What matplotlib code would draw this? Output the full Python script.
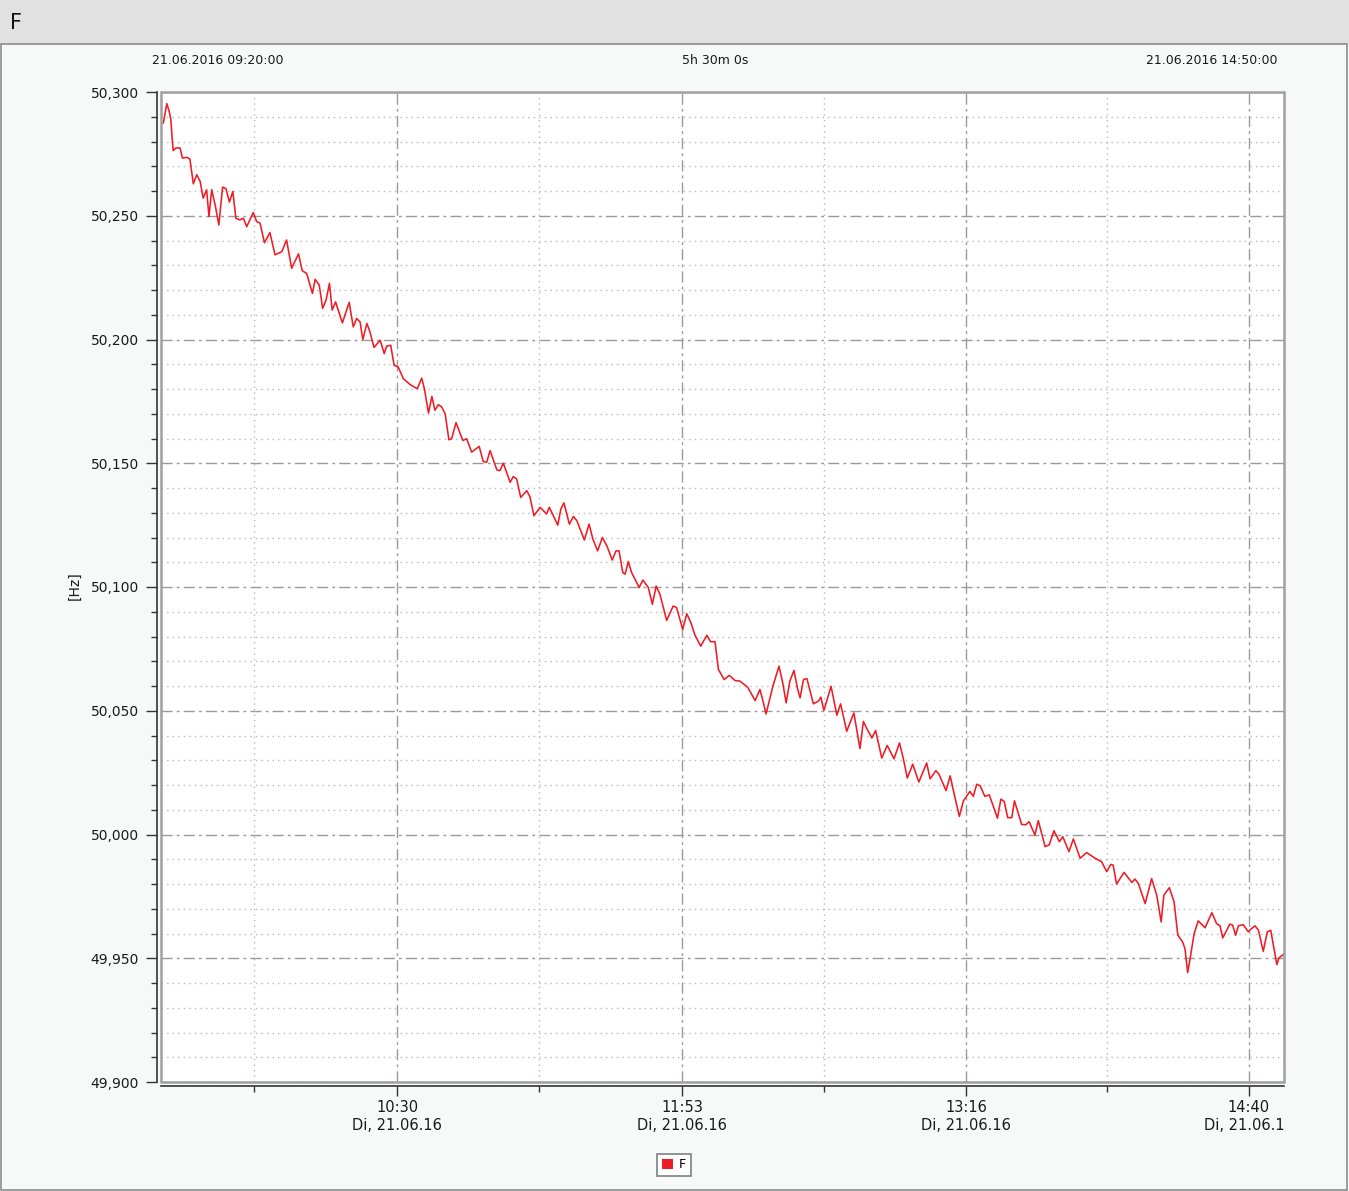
import numpy as np
import matplotlib
matplotlib.use('Agg')
import matplotlib.pyplot as plt
from matplotlib.patches import Rectangle, Patch

# Datos: minutos desde 21.06.2016 09:20:00 y frecuencia en Hz
minutos = [
    0.7, 1.7, 2.4, 2.9, 3.3, 3.6, 4.4, 5.6, 6.3, 7.6,
    8.5, 9.5, 10.5, 11.5, 12.4, 13.4, 14.1, 14.9, 15.9, 17.0,
    18.1, 19.1, 20.1, 21.1, 22.0, 23.2, 24.2, 25.2, 27.1, 28.1,
    29.1, 30.4, 32.0, 33.5, 35.5, 36.9, 38.4, 40.4, 41.5, 42.8,
    44.5, 45.3, 46.5, 47.5, 48.5, 49.5, 50.3, 51.3, 53.3, 55.3,
    56.5, 57.5, 58.5, 59.3, 60.5, 61.4, 62.6, 64.4, 65.6, 66.3,
    67.5, 68.5, 69.7, 71.2, 73.2, 75.3, 76.6, 77.4, 78.6, 79.6,
    80.5, 81.5, 82.5, 83.5, 84.6, 85.4, 86.7, 88.7, 89.8, 91.3,
    93.5, 94.7, 95.7, 96.7, 98.7, 99.6, 100.6, 102.6, 103.5, 104.5,
    105.7, 107.5, 108.4, 109.6, 111.4, 113.3, 114.1, 116.6, 117.5, 118.4,
    120.0, 121.2, 122.2, 124.4, 125.8, 126.9, 128.3, 129.7, 131.0, 132.6,
    133.7, 134.6, 135.7, 136.4, 137.3, 138.3, 140.5, 141.6, 143.2, 144.4,
    145.5, 146.6, 148.6, 150.5, 151.5, 153.3, 154.5, 155.7, 156.9, 158.6,
    160.4, 161.5, 162.8, 163.8, 165.5, 167.0, 168.7, 170.1, 172.4, 174.6,
    176.0, 176.8, 177.8, 179.8, 181.6, 182.7, 183.7, 184.8, 186.0, 187.0,
    187.8, 188.8, 189.8, 191.7, 193.2, 193.9, 194.8, 196.9, 198.6, 199.7,
    201.5, 203.6, 205.4, 206.4, 207.4, 208.9, 210.0, 211.8, 213.4, 215.4,
    217.0, 218.1, 219.3, 220.9, 222.7, 225.0, 226.0, 227.7, 228.6, 230.7,
    231.9, 233.3, 234.6, 235.8, 237.7, 238.7, 239.7, 240.7, 242.1, 243.4,
    245.8, 246.8, 247.8, 248.8, 250.0, 250.8, 252.9, 254.1, 255.1, 256.8,
    257.8, 259.8, 261.0, 262.4, 264.0, 265.0, 266.8, 268.1, 270.1, 272.0,
    274.5, 276.4, 277.9, 279.1, 279.8, 280.8, 283.0, 285.3, 286.2, 287.2,
    289.2, 291.1, 292.6, 293.9, 294.7, 296.3, 297.7, 298.8, 300.2, 300.9,
    301.7, 302.4, 303.6, 304.8, 306.8, 308.8, 310.2, 311.2, 312.0, 314.1,
    314.9, 315.8, 316.6, 318.0, 319.5, 320.3, 321.5, 322.5, 323.9, 325.1,
    326.1, 327.9, 328.5, 329.8,
]
frecuencia = [
    50.2875, 50.2953, 50.2922, 50.2889, 50.2808, 50.2763, 50.2774, 50.2774, 50.2733, 50.2736,
    50.2729, 50.2629, 50.2666, 50.2639, 50.2571, 50.2605, 50.2497, 50.2605, 50.2544, 50.2463,
    50.2616, 50.2609, 50.2555, 50.2598, 50.2490, 50.2483, 50.2490, 50.2456, 50.2513, 50.2477,
    50.2470, 50.2391, 50.2432, 50.2342, 50.2355, 50.2402, 50.2288, 50.2346, 50.2278, 50.2267,
    50.2186, 50.2243, 50.2220, 50.2126, 50.2159, 50.2227, 50.2119, 50.2152, 50.2067, 50.2150,
    50.2051, 50.2085, 50.2071, 50.2000, 50.2065, 50.2031, 50.1968, 50.1997, 50.1943, 50.1973,
    50.1977, 50.1896, 50.1889, 50.1842, 50.1818, 50.1801, 50.1844, 50.1801, 50.1703, 50.1770,
    50.1714, 50.1737, 50.1727, 50.1700, 50.1595, 50.1599, 50.1664, 50.1592, 50.1599, 50.1545,
    50.1568, 50.1507, 50.1504, 50.1551, 50.1473, 50.1470, 50.1500, 50.1423, 50.1446, 50.1437,
    50.1362, 50.1389, 50.1365, 50.1288, 50.1322, 50.1295, 50.1322, 50.1250, 50.1315, 50.1340,
    50.1254, 50.1285, 50.1268, 50.1190, 50.1254, 50.1194, 50.1146, 50.1200, 50.1167, 50.1109,
    50.1146, 50.1146, 50.1058, 50.1052, 50.1103, 50.1058, 50.0998, 50.1028, 50.0998, 50.0930,
    50.1004, 50.0971, 50.0865, 50.0923, 50.0917, 50.0829, 50.0892, 50.0856, 50.0806, 50.0761,
    50.0805, 50.0779, 50.0779, 50.0667, 50.0626, 50.0643, 50.0622, 50.0620, 50.0595, 50.0541,
    50.0586, 50.0545, 50.0487, 50.0599, 50.0680, 50.0613, 50.0532, 50.0620, 50.0663, 50.0592,
    50.0552, 50.0626, 50.0630, 50.0528, 50.0539, 50.0555, 50.0501, 50.0599, 50.0482, 50.0528,
    50.0417, 50.0491, 50.0347, 50.0457, 50.0428, 50.0390, 50.0420, 50.0309, 50.0360, 50.0306,
    50.0370, 50.0309, 50.0228, 50.0284, 50.0212, 50.0289, 50.0225, 50.0258, 50.0244, 50.0177,
    50.0237, 50.0150, 50.0073, 50.0136, 50.0174, 50.0154, 50.0203, 50.0197, 50.0154, 50.0160,
    50.0066, 50.0143, 50.0133, 50.0068, 50.0068, 50.0136, 50.0041, 50.0039, 50.0052, 49.9998,
    50.0056, 49.9951, 49.9958, 50.0015, 49.9971, 49.9991, 49.9931, 49.9982, 49.9904, 49.9927,
    49.9904, 49.9890, 49.9850, 49.9879, 49.9876, 49.9800, 49.9847, 49.9806, 49.9820, 49.9802,
    49.9721, 49.9822, 49.9755, 49.9647, 49.9755, 49.9785, 49.9728, 49.9593, 49.9566, 49.9539,
    49.9442, 49.9498, 49.9600, 49.9651, 49.9623, 49.9684, 49.9640, 49.9631, 49.9582, 49.9638,
    49.9634, 49.9593, 49.9631, 49.9636, 49.9607, 49.9618, 49.9631, 49.9613, 49.9528, 49.9607,
    49.9613, 49.9474, 49.9501, 49.9515,
]

# Ejes: ticks mayores (con etiqueta) y menores
x_mayores = [69.4, 153.1, 236.6, 319.7]
x_menores = [27.3, 111.1, 194.8, 278.0]
x_etiquetas = ['10:30\nDi, 21.06.16', '11:53\nDi, 21.06.16', '13:16\nDi, 21.06.16', '14:40\nDi, 21.06.16']
y_mayores = [49.90, 49.95, 50.00, 50.05, 50.10, 50.15, 50.20, 50.25, 50.30]
y_menores = np.round(np.arange(49.90, 50.3001, 0.01), 2)

texto_inicio = '21.06.2016 09:20:00'
texto_duracion = '5h 30m 0s'
texto_fin = '21.06.2016 14:50:00'
titulo = 'F'
unidad = '[Hz]'
serie = 'F'

W, H = 1349, 1191
fig = plt.figure(figsize=(W / 100, H / 100), dpi=100, facecolor='#f7f9f9')

# Barra del titulo arriba
fig.patches.append(Rectangle((0, 1 - 44 / H), 1, 44 / H, transform=fig.transFigure,
                             facecolor='#e1e1e1', edgecolor='none', zorder=0))
fig.patches.append(Rectangle((1 / W, 1 / H), 1 - 3 / W, 1 - 45 / H, transform=fig.transFigure,
                             facecolor='none', edgecolor='#8c8c8c', lw=1.2, zorder=1))
fig.text(10 / W, 1 - 23 / H, titulo, fontsize=15, va='center', ha='left', color='#111111')

# Area del grafico
izq, der, arr, aba = 161, 1284, 92, 1082
ax = fig.add_axes([izq / W, 1 - aba / H, (der - izq) / W, (aba - arr) / H])
ax.set_facecolor('white')

ax.plot(minutos, frecuencia, color='#ee1c25', lw=1.15, zorder=3)

ax.set_xlim(0, 330)
ax.set_ylim(49.9, 50.3)

ax.set_xticks(x_mayores)
ax.set_xticklabels(x_etiquetas)
ax.set_xticks(x_menores, minor=True)
ax.set_yticks(y_mayores)
ax.set_yticklabels([('%.3f' % v).replace('.', ',') for v in y_mayores])
ax.set_yticks(y_menores, minor=True)

# Rejilla
ax.grid(which='major', color='#9a9a9a', lw=1, ls=(0, (8, 3, 2, 3)), zorder=1)
ax.grid(which='minor', color='#b8b8b8', lw=1, ls=(0, (1, 3)), zorder=1)
ax.set_axisbelow(True)

# Lineas de eje separadas del marco
for lado in ['top', 'right']:
    ax.spines[lado].set_visible(False)
for lado in ['left', 'bottom']:
    ax.spines[lado].set_position(('outward', 3))
    ax.spines[lado].set_color('#333333')
    ax.spines[lado].set_linewidth(1.2)
ax.add_patch(Rectangle((0, 0), 1, 1, transform=ax.transAxes, facecolor='none',
                       edgecolor='#a0a0a0', lw=1.8, clip_on=False, zorder=4))

ax.tick_params(axis='y', which='major', length=8, width=1, color='#333333', pad=5,
               labelsize=10, labelcolor='#1a1a1a')
ax.tick_params(axis='y', which='minor', length=4.5, width=1, color='#333333')
ax.tick_params(axis='x', which='major', length=7, width=1, color='#333333', pad=3,
               labelsize=10.5, labelcolor='#1a1a1a')
ax.tick_params(axis='x', which='minor', length=4.5, width=1, color='#333333')

# Recortar la ultima etiqueta como en la imagen
recorte = Rectangle((0, 0), (der + 1) / W, 1, transform=fig.transFigure)
for lab in ax.get_xticklabels():
    lab.set_linespacing(1.25)
    lab.set_clip_on(True)
    lab.set_clip_path(recorte)

fig.text(75 / W, 1 - 586 / H, unidad, rotation=90, fontsize=10, ha='center', va='center',
         color='#1a1a1a')

# Textos de arriba
fig.text(152 / W, 1 - 61 / H, texto_inicio, fontsize=9, ha='left', va='center', color='#1a1a1a')
fig.text(715 / W, 1 - 61 / H, texto_duracion, fontsize=9, ha='center', va='center', color='#1a1a1a')
fig.text(1277 / W, 1 - 61 / H, texto_fin, fontsize=9, ha='right', va='center', color='#1a1a1a')

# Leyenda
ley = fig.legend(handles=[Patch(facecolor='#ee1c25', edgecolor='none', label=serie)],
                 loc='center', bbox_to_anchor=(674 / W, 1 - 1165 / H), fontsize=9,
                 handlelength=0.9, handleheight=0.9, handletextpad=0.5, borderpad=0.35,
                 fancybox=False, framealpha=1, edgecolor='#808080')
ley.get_frame().set_linewidth(1.2)

fig.savefig('out.png', dpi=100, facecolor=fig.get_facecolor())
